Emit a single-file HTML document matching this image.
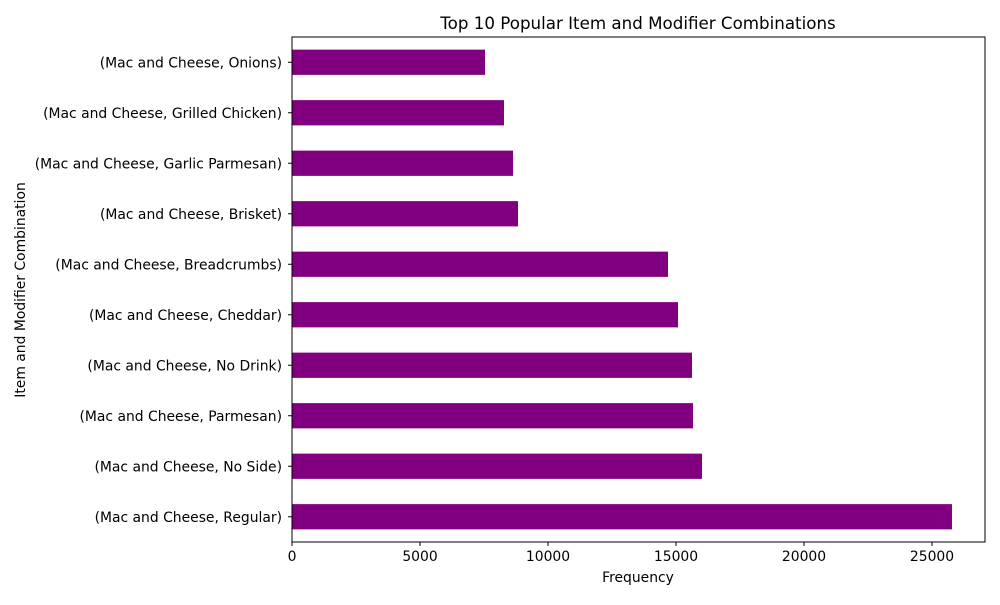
<!DOCTYPE html>
<html><head><meta charset="utf-8"><style>
body{margin:0;background:#fff;font-family:"Liberation Sans","DejaVu Sans",sans-serif}
svg text{font-family:"DejaVu Sans","Liberation Sans",sans-serif;fill:#000}
</style></head><body>
<svg id="chart" width="1000" height="600">
<text x="638" y="29" font-size="16.7" text-anchor="middle">Top 10 Popular Item and Modifier Combinations</text>
<text x="638" y="582" font-size="13.9" text-anchor="middle">Frequency</text>
<text transform="translate(25,290) rotate(-90)" font-size="13.9" text-anchor="middle">Item and Modifier Combination</text>
<g id="bars"></g><g id="xt"></g><g id="yt"></g>
<rect x="292" y="37" width="693" height="505" fill="none" stroke="#000" stroke-width="1"/>
</svg>
<script>
const categories=["(Mac and Cheese, Regular)","(Mac and Cheese, No Side)","(Mac and Cheese, Parmesan)","(Mac and Cheese, No Drink)","(Mac and Cheese, Cheddar)","(Mac and Cheese, Breadcrumbs)","(Mac and Cheese, Brisket)","(Mac and Cheese, Garlic Parmesan)","(Mac and Cheese, Grilled Chicken)","(Mac and Cheese, Onions)"];
const values=[25780,16016,15664,15625,15078,14687,8828,8633,8281,7539];
const xTicks=[0,5000,10000,15000,20000,25000];
const NS="http://www.w3.org/2000/svg";
const x0=292,x1=985,y0=37,y1=542,xMax=27070;
const xs=v=>x0+v/xMax*(x1-x0);
const step=(y1-y0)/(categories.length);
const yc=i=>y1-step*(i+0.5);
function mk(t,a,p){const e=document.createElementNS(NS,t);for(const k in a)e.setAttribute(k,a[k]);p.appendChild(e);return e;}
const gb=document.getElementById('bars'),gx=document.getElementById('xt'),gy=document.getElementById('yt');
categories.forEach((c,i)=>{
const h=step*0.5;
const r=mk('rect',{x:x0,y:yc(i)-h/2,width:xs(values[i])-x0,height:h,fill:'#800080'},gb);


mk('line',{x1:x0-4,x2:x0,y1:yc(i),y2:yc(i),stroke:'#000'},gy);
const t=mk('text',{x:x0-10,y:yc(i)+5,'font-size':13.9,'text-anchor':'end'},gy);
t.textContent=c;


});
xTicks.forEach(v=>{
mk('line',{x1:xs(v),x2:xs(v),y1:y1,y2:y1+4,stroke:'#000'},gx);
const t=mk('text',{x:xs(v),y:y1+19,'font-size':13.9,'text-anchor':'middle'},gx);
t.textContent=v;


});
</script>
</body></html>
